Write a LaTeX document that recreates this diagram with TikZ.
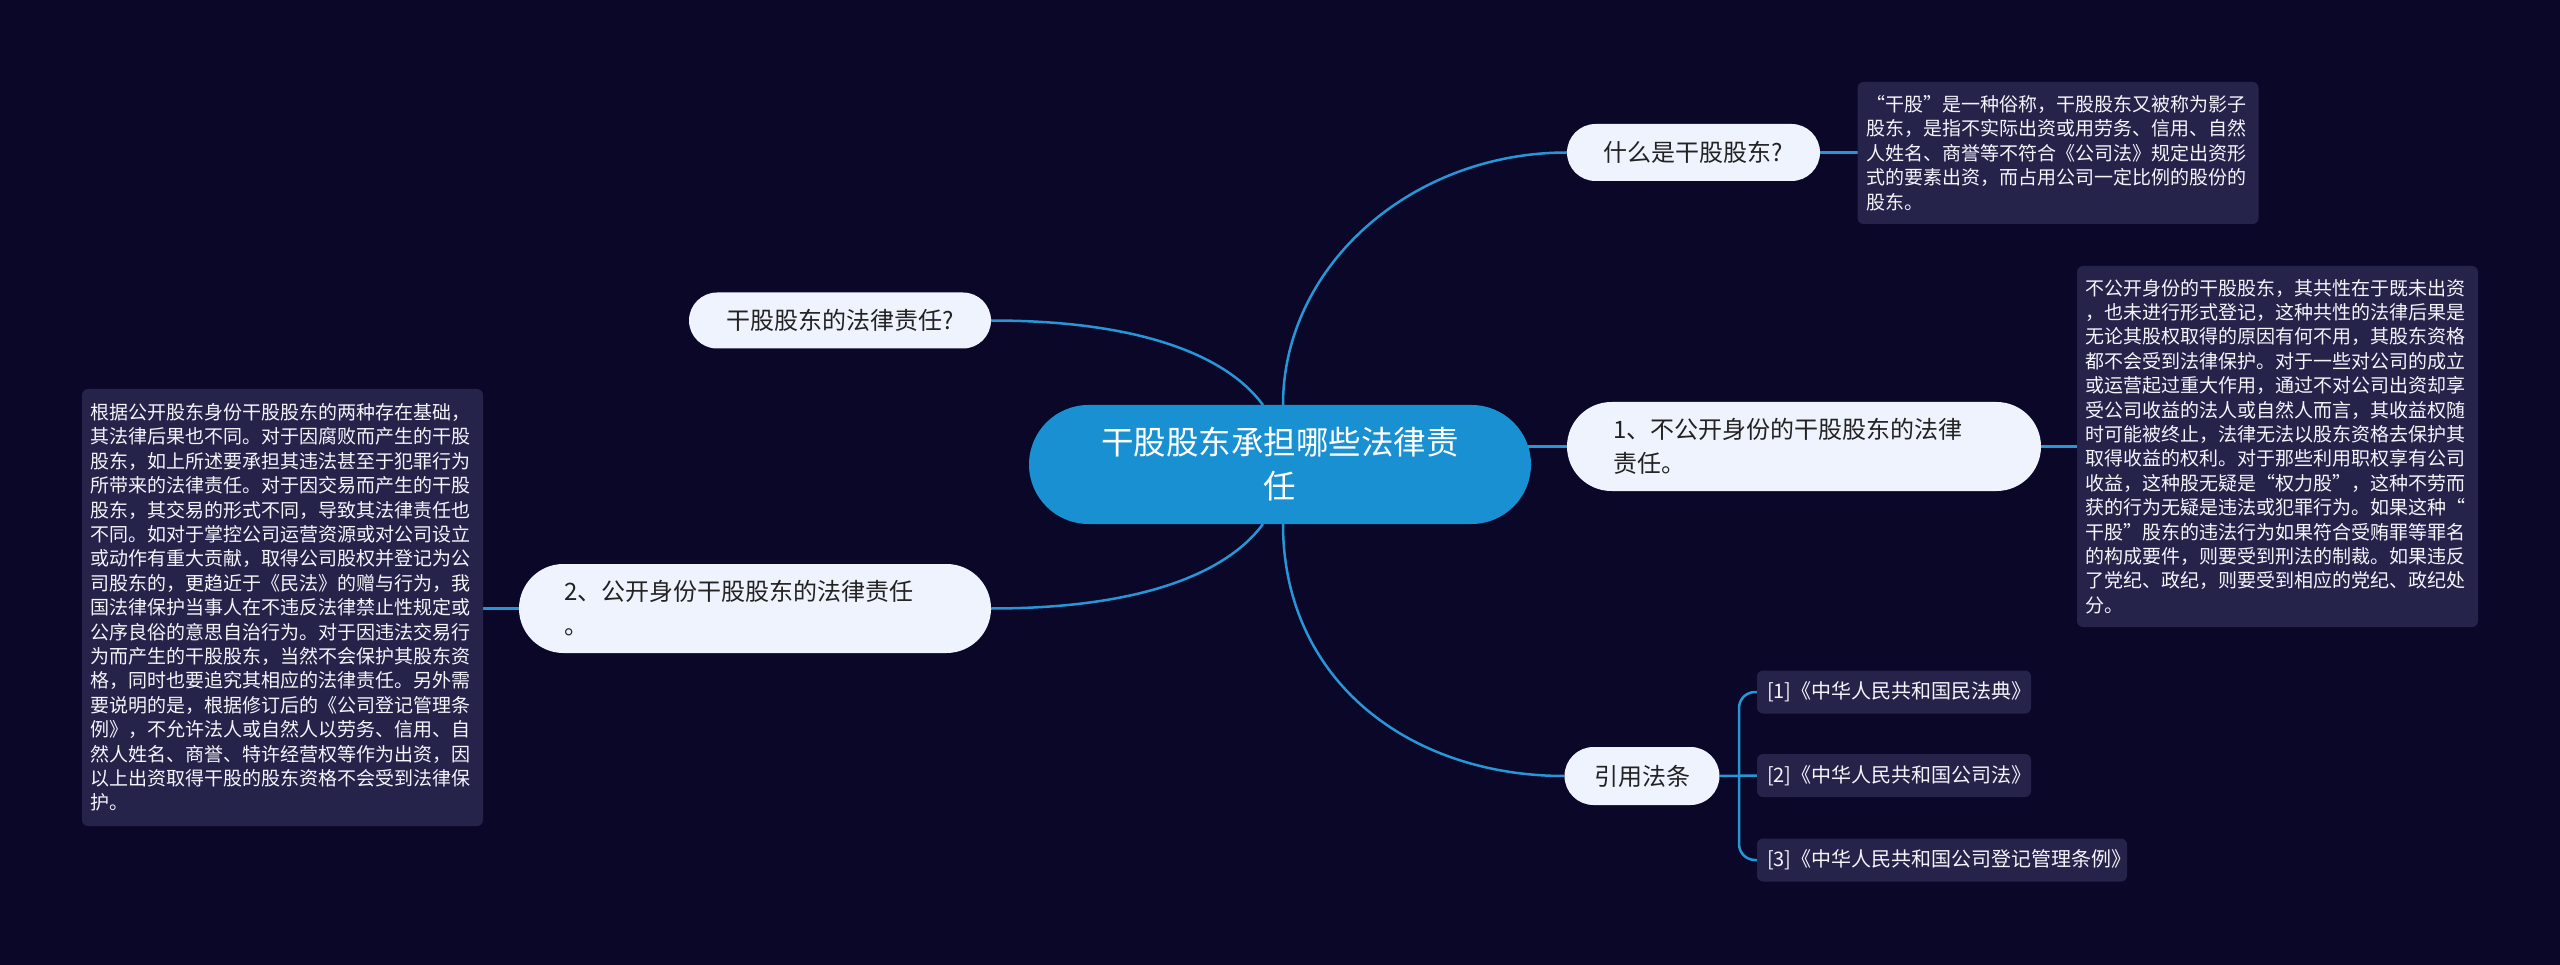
\documentclass[tikz,border=0pt]{standalone}
\usepackage{fontspec}
\setmainfont{Noto Sans CJK SC}
\usetikzlibrary{calc}
\definecolor{bgc}{RGB}{11,7,41}
\definecolor{ctr}{RGB}{25,144,210}
\definecolor{lite}{RGB}{238,243,253}
\definecolor{dark}{RGB}{34,34,34}
\definecolor{tbox}{RGB}{38,35,75}
\definecolor{tline}{RGB}{38,150,215}
\definecolor{ttext}{RGB}{244,244,250}
\pgfdeclarelayer{back}
\pgfdeclarelayer{bg}
\pgfsetlayers{back,bg,main}
\begin{document}
\begin{tikzpicture}[x=1pt,y=-1pt,
  every node/.style={inner sep=0pt,outer sep=0pt},
  centernode/.style={fill=ctr,text=white,minimum width=502pt,minimum height=119pt,rounded corners=59.5pt,align=center,font=\fontsize{32.5}{44}\selectfont},
  pillnode/.style={fill=lite,text=dark,font=\fontsize{24}{34}\selectfont},
  infobox/.style={fill=tbox,text=ttext,rounded corners=6pt,font=\fontsize{19}{24.4}\selectfont,text width=384pt,align=left,inner xsep=8.5pt},
  citebox/.style={fill=tbox,text=ttext,rounded corners=6pt,font=\fontsize{20}{24}\selectfont,minimum height=43pt,anchor=west,align=left,inner xsep=10pt},
  link/.style={draw=tline,line width=2.5pt}
]
\useasboundingbox (0,0) rectangle (2560,965);
\begin{pgfonlayer}{back}
\fill[bgc] (0,0) rectangle (2560,965);
\end{pgfonlayer}

% central topic
\node[centernode] (C) at (1280,464.5) {干股股东承担哪些法律责\\任};

% right branches
\node[pillnode,minimum width=253pt,minimum height=57pt,rounded corners=28.5pt] (N1) at (1693.5,152.5) {什么是干股股东?};
\node[pillnode,minimum width=474pt,minimum height=89pt,rounded corners=44.5pt,text width=381pt,align=left] (N2) at (1804,446.5) {1、不公开身份的干股股东的法律\\责任。};
\node[pillnode,minimum width=155pt,minimum height=58pt,rounded corners=29pt] (N3) at (1642,776) {引用法条};

% left branches
\node[pillnode,minimum width=302pt,minimum height=56pt,rounded corners=28pt] (N4) at (840,320.5) {干股股东的法律责任?};
\node[pillnode,minimum width=472pt,minimum height=89pt,rounded corners=44.5pt,text width=381pt,align=left] (N5) at (755,608.5) {2、公开身份干股股东的法律责任\\。};

% detail boxes
\node[infobox,minimum height=142pt] (T1) at (2058,153) {“干股”是一种俗称，干股股东又被称为影子\\
股东，是指不实际出资或用劳务、信用、自然\\
人姓名、商誉等不符合《公司法》规定出资形\\
式的要素出资，而占用公司一定比例的股份的\\
股东。};

\node[infobox,minimum height=361pt] (T2) at (2277.5,446.5) {不公开身份的干股股东，其共性在于既未出资\\
，也未进行形式登记，这种共性的法律后果是\\
无论其股权取得的原因有何不用，其股东资格\\
都不会受到法律保护。对于一些对公司的成立\\
或运营起过重大作用，通过不对公司出资却享\\
受公司收益的法人或自然人而言，其收益权随\\
时可能被终止，法律无法以股东资格去保护其\\
取得收益的权利。对于那些利用职权享有公司\\
收益，这种股无疑是“权力股”，这种不劳而\\
获的行为无疑是违法或犯罪行为。如果这种“\\
干股”股东的违法行为如果符合受贿罪等罪名\\
的构成要件，则要受到刑法的制裁。如果违反\\
了党纪、政纪，则要受到相应的党纪、政纪处\\
分。};

\node[infobox,minimum height=437pt] (T3) at (282.5,607.5) {根据公开股东身份干股股东的两种存在基础，\\
其法律后果也不同。对于因腐败而产生的干股\\
股东，如上所述要承担其违法甚至于犯罪行为\\
所带来的法律责任。对于因交易而产生的干股\\
股东，其交易的形式不同，导致其法律责任也\\
不同。如对于掌控公司运营资源或对公司设立\\
或动作有重大贡献，取得公司股权并登记为公\\
司股东的，更趋近于《民法》的赠与行为，我\\
国法律保护当事人在不违反法律禁止性规定或\\
公序良俗的意思自治行为。对于因违法交易行\\
为而产生的干股股东，当然不会保护其股东资\\
格，同时也要追究其相应的法律责任。另外需\\
要说明的是，根据修订后的《公司登记管理条\\
例》，不允许法人或自然人以劳务、信用、自\\
然人姓名、商誉、特许经营权等作为出资，因\\
以上出资取得干股的股东资格不会受到法律保\\
护。};

% citations
\node[citebox,text width=254pt] (C1) at (1757,692) {[1]《中华人民共和国民法典》};
\node[citebox,text width=254pt] (C2) at (1757,775.5) {[2]《中华人民共和国公司法》};
\node[citebox,text width=350pt] (C3) at (1757,860) {[3]《中华人民共和国公司登记管理条例》};

% connection points
\coordinate (cTR) at ($(C.north)+(3,0)$);
\coordinate (cTL) at ($(C.north)+(-17,0)$);
\coordinate (cBR) at ($(C.south)+(3,0)$);
\coordinate (cBL) at ($(C.south)+(-17,0)$);
\coordinate (br) at ($(C2.west)+(-18,0)$);

\begin{pgfonlayer}{bg}
\draw[link] (cTR) .. controls ($(cTR)+(0,-139)$) and ($(N1.west)+(-156,0)$) .. (N1.west);
\draw[link] (cBR) .. controls ($(cBR)+(0,156)$) and ($(N3.west)+(-156,0)$) .. (N3.west);
\draw[link] ($(N2.west -| C.east)+(-10,0)$) -- (N2.west);
\draw[link] (cTL) .. controls ($(cTL)+(-33,-45)$) and ($(N4.east)+(159,0)$) .. (N4.east);
\draw[link] (cBL) .. controls ($(cBL)+(-33,45)$) and ($(N5.east)+(159,0)$) .. (N5.east);
\draw[link] (N1.east) -- (N1.east -| T1.west);
\draw[link] (N2.east) -- (N2.east -| T2.west);
\draw[link] (N5.west) -- (N5.west -| T3.east);
\draw[link] (N3.east) -- (C2.west);
\draw[link,rounded corners=16pt] (br) |- (C1.west);
\draw[link,rounded corners=16pt] (br) |- (C3.west);
\end{pgfonlayer}
\end{tikzpicture}
\end{document}
